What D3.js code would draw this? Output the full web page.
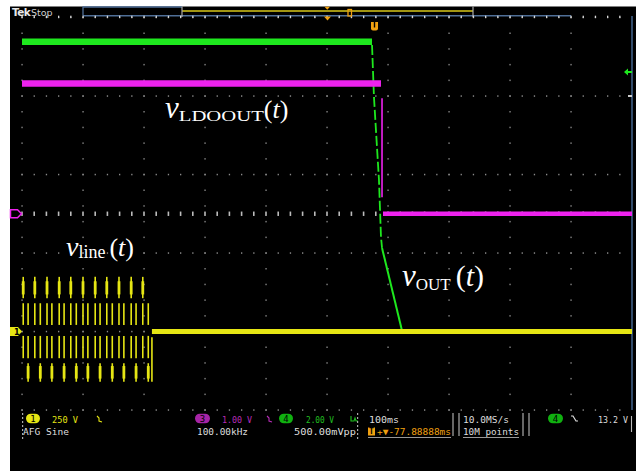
<!DOCTYPE html>
<html><head><meta charset="utf-8">
<script src="https://cdn.jsdelivr.net/npm/d3@7"></script>
<style>html,body{margin:0;padding:0;background:#fff;overflow:hidden}svg{display:block}</style>
</head><body>
<script>
// ---------------- data ----------------
const timeDomain = [-500, 500];          // ms, 100 ms/div, 10 div
const divDomain = [-2.5, 2.5];           // visible vertical divisions
const ch1VoltsPerDiv = 250, ch1OffsetDiv = -1.5;
const ch3VoltsPerDiv = 1.0, ch3OffsetDiv = 0;
const ch4VoltsPerDiv = 2.0, ch4OffsetDiv = -1.5;

// Ch4 (green) v_OUT
const ch4HoldT = [-500, 73.8];           const ch4HoldV = [7.38, 7.38];
const ch4FallT = [73.8, 77.0, 85.2, 88.5, 90.2]; const ch4FallV = [7.30, 5.97, 3.86, 2.41, 2.13];
const ch4DecayT = [90.2, 122.5];         const ch4DecayV = [2.13, 0.05];
const ch4ZeroT = [122.5, 500];           const ch4ZeroV = [0.0, 0.0];
// Ch3 (magenta) v_LDOOUT
const ch3HighT = [-500, 88.5];           const ch3HighV = [1.66, 1.66];
const ch3EdgeT = [90.2, 90.2];           const ch3EdgeV = [1.47, 0.21];
const ch3LowT = [91.8, 500];             const ch3LowV = [0.0, 0.0];
// Ch1 (yellow) v_line : aliased sine burst, then zero
const ch1FlatT = [-287, 500];            const ch1FlatV = [0, 0];
const burstColsA = [-498, -479, -459, -439, -420, -400, -380, -361, -341, -321, -302];
const burstColsB = [-490, -470, -451, -431, -411, -392, -372, -352, -333, -313, -293];
const burstBandsA = [[106, 174], [21, 90], [-85, -14]];
const burstBandsB = [[21, 90], [-85, -14], [-160, -101]];
const burstLastT = -287;                 const burstLastV = [-18, -160];

// readout texts
const ch1Readout = ["250 V", "AFG Sine"];
const ch3Readout = ["1.00 V", "100.00kHz"];
const ch4Readout = ["2.00 V", "500.00mVpp"];
const timeReadout = ["100ms", "+▼-77.88888ms"];
const acqReadout = ["10.0MS/s", "10M points"];
const trigReadout = ["13.2 V"];

// ---------------- drawing ----------------
const W = 636, H = 471;
const svg = d3.select("body").append("svg").attr("width", W).attr("height", H);
svg.append("rect").attr("x", 10).attr("y", 6.5).attr("width", W - 10).attr("height", H - 6.5).attr("fill", "#000");

const x = d3.scaleLinear().domain(timeDomain).range([22, 632]);
const yDiv = d3.scaleLinear().domain(divDomain).range([410, 17.5]);
const chScale = (vpd, off) => d3.scaleLinear()
  .domain([(divDomain[0] - off) * vpd, (divDomain[1] - off) * vpd]).range([410, 17.5]);
const y1 = chScale(ch1VoltsPerDiv, ch1OffsetDiv);
const y3 = chScale(ch3VoltsPerDiv, ch3OffsetDiv);
const y4 = chScale(ch4VoltsPerDiv, ch4OffsetDiv);

const YEL = "#e6e614", MAG = "#ee22ee", GRN = "#1ee81e", ORG = "#f0a010", GRID = "#8a8a8a";

// graticule
const g = svg.append("g");
const colDivs = d3.range(0, 11);
const rowDivs = d3.range(-2.5, 2.51, 1);
const colX = colDivs.map(i => x(timeDomain[0] + i * 100));
const minorX = d3.range(0, 51).map(i => x(timeDomain[0] + i * 20));
const minorY = d3.range(0, 26).map(i => yDiv(divDomain[0] + i * 0.2));
colX.slice(0, 10).forEach(cx => {
  g.selectAll(null).data(minorY).join("rect")
    .attr("x", cx - 0.6).attr("y", d => d - 0.7).attr("width", 1.3).attr("height", 1.5).attr("fill", GRID);
});
rowDivs.forEach(r => {
  g.selectAll(null).data(minorX.slice(0, 50)).join("rect")
    .attr("x", d => d - 0.6).attr("y", yDiv(r) - 0.7).attr("width", 1.3).attr("height", 1.5).attr("fill", GRID);
});
// center axis bright ticks
g.selectAll(null).data(minorX.slice(0, 50)).join("rect")
  .attr("x", d => d - 0.8).attr("y", yDiv(0) - 2.2).attr("width", 1.6).attr("height", 4.4).attr("fill", "#bcbcbc");

// top ruler / record view
svg.append("line").attr("x1", 83).attr("x2", 571).attr("y1", 15.7).attr("y2", 15.7).attr("stroke", "#4f6e96").attr("stroke-width", 1.6);
svg.append("path").attr("d", "M83,15.7V7H182").attr("fill", "none").attr("stroke", "#4f6e96").attr("stroke-width", 1.3);
svg.append("line").attr("x1", 182).attr("x2", 473).attr("y1", 11).attr("y2", 11).attr("stroke", "#d8c81a").attr("stroke-width", 1.6);
[182, 473].forEach(v => svg.append("line").attr("x1", v).attr("x2", v).attr("y1", 6.5).attr("y2", 17).attr("stroke", "#aaa").attr("stroke-width", 1.2));
svg.selectAll(null).data(minorX.slice(0, 50)).join("rect")
  .attr("x", d => d - 0.6).attr("y", 15.7).attr("width", 1.3).attr("height", 2.2).attr("fill", "#ddd");
svg.append("line").attr("x1", 632).attr("x2", 632).attr("y1", 16).attr("y2", 410).attr("stroke", "#3f5f86").attr("stroke-width", 1.6);
svg.append("path").attr("d", "M324.5,6.8h5.5l-2.75,3z").attr("fill", ORG);
svg.append("rect").attr("x", 348).attr("y", 9.5).attr("width", 3.5).attr("height", 6.5).attr("fill", "none").attr("stroke", ORG).attr("stroke-width", 1.3);
svg.append("path").attr("d", "M324,16.5h7l-3.5,4z").attr("fill", ORG);
svg.append("path").attr("d", "M371,22h7v6.5q0,2 -2,2h-3q-2,0 -2,-2z").attr("fill", ORG);
svg.append("line").attr("x1", 374.5).attr("x2", 374.5).attr("y1", 22).attr("y2", 27.5).attr("stroke", "#000").attr("stroke-width", 1.4);

svg.append("text").attr("x", 12).attr("y", 15.5).attr("font-family", "DejaVu Sans, sans-serif").attr("font-size", 10.5)
  .attr("font-weight", "bold").attr("fill", "#e8e8e8").attr("letter-spacing", -0.6).text("Tek");
svg.append("text").attr("x", 31).attr("y", 15.5).attr("font-family", "DejaVu Sans, sans-serif").attr("font-size", 9.5)
  .attr("fill", "#cfcfcf").text("Stop");

// traces
const line = (ys) => d3.line().x(d => x(d[0])).y(d => ys(d[1]));
const zip = (t, v) => t.map((d, i) => [d, v[i]]);

// green decay (under yellow)
svg.append("path").datum(zip(ch4ZeroT, ch4ZeroV)).attr("d", line(y4)).attr("fill", "none").attr("stroke", GRN).attr("stroke-width", 2);
svg.append("path").datum(zip(ch4DecayT, ch4DecayV)).attr("d", line(y4)).attr("fill", "none").attr("stroke", GRN).attr("stroke-width", 2);
svg.append("path").datum(zip(ch4FallT, ch4FallV)).attr("d", line(y4)).attr("fill", "none").attr("stroke", GRN)
  .attr("stroke-width", 1.8).attr("stroke-dasharray", "10,3");

// yellow burst
const by = svg.append("g").attr("stroke", YEL).attr("stroke-width", 1.6);
burstColsA.forEach(t => burstBandsA.forEach(b => by.append("line").attr("x1", x(t)).attr("x2", x(t)).attr("y1", y1(b[0])).attr("y2", y1(b[1]))));
burstColsB.forEach(t => burstBandsB.forEach(b => by.append("line").attr("x1", x(t)).attr("x2", x(t)).attr("y1", y1(b[0])).attr("y2", y1(b[1]))));
by.append("line").attr("x1", x(burstLastT)).attr("x2", x(burstLastT)).attr("y1", y1(burstLastV[0])).attr("y2", y1(burstLastV[1]));
// thicker core of outer bands
burstColsA.forEach(t => by.append("line").attr("x1", x(t)).attr("x2", x(t)).attr("y1", y1(160)).attr("y2", y1(118)).attr("stroke-width", 2.8));
burstColsB.forEach(t => by.append("line").attr("x1", x(t)).attr("x2", x(t)).attr("y1", y1(-110)).attr("y2", y1(-150)).attr("stroke-width", 2.8));
svg.append("path").datum(zip(ch1FlatT, ch1FlatV)).attr("d", line(y1)).attr("fill", "none").attr("stroke", YEL).attr("stroke-width", 5);

// magenta
svg.append("path").datum(zip(ch3HighT, ch3HighV)).attr("d", line(y3)).attr("fill", "none").attr("stroke", MAG).attr("stroke-width", 6.5);
svg.append("path").datum(zip(ch3EdgeT, ch3EdgeV)).attr("d", line(y3)).attr("fill", "none").attr("stroke", MAG).attr("stroke-width", 1.6);
svg.append("path").datum(zip(ch3LowT, ch3LowV)).attr("d", line(y3)).attr("fill", "none").attr("stroke", MAG).attr("stroke-width", 4.5);
// green hold
svg.append("path").datum(zip(ch4HoldT, ch4HoldV)).attr("d", line(y4)).attr("fill", "none").attr("stroke", GRN).attr("stroke-width", 6.5);

// channel markers
const m1 = y1(0);
svg.append("path").attr("d", `M10,${m1 - 4.5}h8l4,4.5l-4,4.5h-8z`).attr("fill", YEL);
svg.append("text").attr("x", 14).attr("y", m1 + 3.3).attr("font-family", "DejaVu Sans").attr("font-size", 8).attr("font-weight", "bold").attr("fill", "#000").text("1");
const m3 = y3(0);
svg.append("path").attr("d", `M10.5,${m3 - 4}h7l4,4l-4,4h-7z`).attr("fill", "none").attr("stroke", MAG).attr("stroke-width", 1.5);
svg.append("path").attr("d", "M624,72l4,-3.5v2.5h4v2h-4v2.5z").attr("fill", GRN);
svg.append("rect").attr("x", 628).attr("y", 95).attr("width", 4).attr("height", 2).attr("fill", "#ccc");

// labels
function label(px, py, sub, opts) {
  const t = svg.append("text").attr("x", px).attr("y", py).attr("fill", "#fff")
    .attr("font-family", "Liberation Serif, Times New Roman, serif");
  t.append("tspan").attr("font-style", "italic").attr("font-size", opts.v).text("v");
  t.append("tspan").attr("font-size", opts.s).attr("dy", opts.dy).attr("textLength", opts.sw)
    .attr("lengthAdjust", "spacingAndGlyphs").text(sub);
  t.append("tspan").attr("font-size", opts.p).attr("dy", -opts.dy).attr("dx", opts.gap).text("(");
  t.append("tspan").attr("font-size", opts.p).attr("font-style", "italic").text("t");
  t.append("tspan").attr("font-size", opts.p).text(")");
}
label(165, 118, "LDOOUT", {v: 31, s: 15, sw: 85, dy: 3, p: 26, gap: 0});
label(66, 256, "line", {v: 28, s: 18, sw: 27, dy: 2, p: 26, gap: 4});
label(402, 286, "OUT", {v: 31, s: 17, sw: 35, dy: 4, p: 30, gap: 5});

// bottom readouts
const mono = "DejaVu Sans Mono, monospace";
function txt(px, py, s, c, len) {
  const t = svg.append("text").attr("x", px).attr("y", py).attr("font-family", mono).attr("font-size", 9.5).attr("fill", c).text(s);
  if (len) t.attr("textLength", len).attr("lengthAdjust", "spacingAndGlyphs");
  return t;
}
function badge(cx, cy, w, c, s) {
  svg.append("rect").attr("x", cx - w / 2).attr("y", cy - 4.8).attr("width", w).attr("height", 9.6).attr("rx", 4.8).attr("fill", c);
  svg.append("text").attr("x", cx).attr("y", cy + 3.3).attr("text-anchor", "middle").attr("font-family", mono).attr("font-size", 9).attr("fill", "#000").text(s);
}
badge(33, 418.5, 14, YEL, "1");
txt(52, 422.5, ch1Readout[0], YEL, 26);
txt(23, 435, ch1Readout[1], "#ddd", 46);
svg.append("path").attr("d", "M97,416l2,2l0,3l3,1").attr("fill", "none").attr("stroke", YEL).attr("stroke-width", 1.1);

badge(202.5, 418.5, 15, "#a624a6", "3");
txt(222, 422.5, ch3Readout[0], "#b82cb8", 30);
svg.append("path").attr("d", "M267,416l2,2l0,3l3,1").attr("fill", "none").attr("stroke", "#b82cb8").attr("stroke-width", 1.1);
txt(197, 435, ch3Readout[1], "#ddd", 51);

badge(286, 418.5, 14, "#10b010", "4");
txt(306, 422.5, ch4Readout[0], "#20c020", 28);
svg.append("path").attr("d", "M351,416v5h3l1,-3l1,3h2").attr("fill", "none").attr("stroke", "#20c020").attr("stroke-width", 1.1);
txt(294, 435, ch4Readout[1], "#ddd", 62);

txt(369, 422.5, timeReadout[0], "#ddd", 30);
svg.append("rect").attr("x", 368).attr("y", 427.5).attr("width", 7).attr("height", 8).attr("fill", ORG);
svg.append("text").attr("x", 371.5).attr("y", 434.3).attr("text-anchor", "middle").attr("font-family", mono).attr("font-size", 8).attr("font-weight", "bold").attr("fill", "#000").text("T");
txt(377, 435, timeReadout[1], ORG, 74);
svg.append("line").attr("x1", 368).attr("x2", 451).attr("y1", 437.5).attr("y2", 437.5).attr("stroke", "#999").attr("stroke-width", 1);

txt(463, 422.5, acqReadout[0], "#ddd", 46);
txt(463, 435, acqReadout[1], "#ddd", 56);
svg.append("line").attr("x1", 463).attr("x2", 519).attr("y1", 437.5).attr("y2", 437.5).attr("stroke", "#999").attr("stroke-width", 1);

[453, 459, 523, 529].forEach(v => svg.append("line").attr("x1", v).attr("x2", v).attr("y1", 413).attr("y2", 436).attr("stroke", "#bbb").attr("stroke-width", 1.1));
svg.append("line").attr("x1", 631.5).attr("x2", 631.5).attr("y1", 416).attr("y2", 432).attr("stroke", "#bbb").attr("stroke-width", 1.1);

badge(555.5, 418.5, 15, "#10b010", "4");
svg.append("path").attr("d", "M571,416h2l3,5h2").attr("fill", "none").attr("stroke", "#ddd").attr("stroke-width", 1.2);
txt(598, 422.5, trigReadout[0], "#ddd", 30);

// dotted brackets
[[22, 413, 438], [357, 413, 438]].forEach(b => {
  svg.selectAll(null).data(d3.range(b[1], b[2], 4)).join("rect")
    .attr("x", b[0]).attr("y", d => d).attr("width", 1.2).attr("height", 2).attr("fill", "#aaa");
});
</script>
</body></html>
